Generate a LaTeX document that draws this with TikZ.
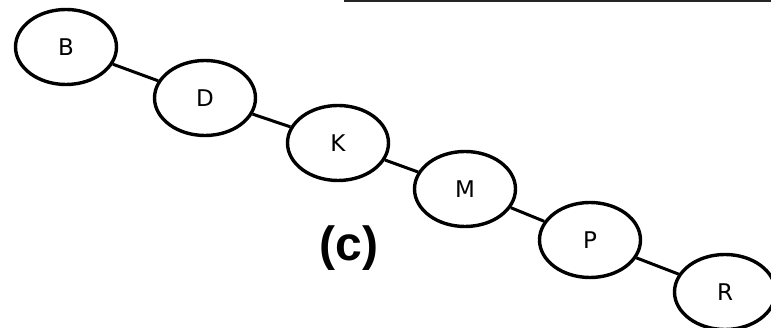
\documentclass[tikz,border=0pt]{standalone}
\usepackage{fontspec}
\setmainfont{DejaVu Sans}
\newfontfamily\labelfont{Liberation Sans}
\usetikzlibrary{shapes.geometric}
\definecolor{mydark}{RGB}{34, 38, 40}
\tikzset{keynode/.style = {draw, ellipse, line width = 3.4pt, inner sep = 0,
  minimum width = 101pt, minimum height = 75pt, font = \fontsize{23}{26}\selectfont},
  edge/.style = {line width = 3pt}}

\begin{document}
\begin{tikzpicture}[x = 1pt, y = -1pt]

\clip (0,0) rectangle (771,328); % page size

\draw[mydark, line width = 2.5pt] (344, 1) -- (771, 1);

\node[keynode] (B) at (66, 47) {B};
\node[keynode] (D) at (205, 98) {D};
\node[keynode] (K) at (338, 143) {K};
\node[keynode] (M) at (465, 189) {M};
\node[keynode] (P) at (590, 240) {P};
\node[keynode] (R) at (725, 292) {R};

\draw[edge] (B) -- (D);
\draw[edge] (D) -- (K);
\draw[edge] (K) -- (M);
\draw[edge] (M) -- (P);
\draw[edge] (P) -- (R);

\node (caption) at (349, 248) {\labelfont\bfseries\fontsize{48}{52}\selectfont (c)};

\end{tikzpicture}
\end{document}
